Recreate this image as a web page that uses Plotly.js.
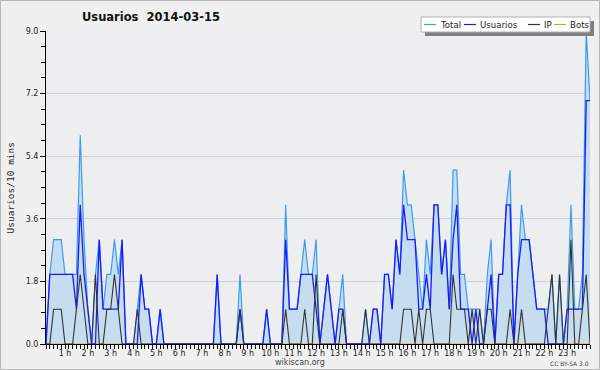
<!DOCTYPE html>
<html><head><meta charset="utf-8">
<script src="https://cdn.plot.ly/plotly-3.0.1.min.js"></script>
<style>html,body{margin:0;padding:0;background:#f0f0f0;}#c{width:600px;height:370px;}</style>
</head><body><div id="c"></div>
<script>
// 144 ten-minute slots for 2014-03-15
const total = [0,2,3,3,3,2,2,2,2,6, 3,1,0,2,3,1,2,2,3,2, 3,0,0,0,1,2,1,1,0,0,
  1,0,0,0,0,0,0,0,0,0, 0,0,0,0,0,2,0,0,0,0, 0,2,0,0,0,0,0,0,1,0,
  0,0,0,4,1,1,1,2,3,2, 2,3,0,1,2,1,0,1,2,0, 0,0,0,0,1,0,1,1,0,2,
  2,1,3,2,5,4,4,3,2,1, 3,2,4,4,2,3,1,5,5,2, 2,1,1,1,1,0,2,3,0,2,
  2,4,5,0,2,4,3,3,2,1, 1,1,1,2,0,2,0,1,4,1, 1,2,9,7];
const usuarios = [0,2,2,2,2,2,2,2,1,4, 2,1,0,0,3,1,1,1,1,1, 3,0,0,0,0,2,1,1,0,0,
  1,0,0,0,0,0,0,0,0,0, 0,0,0,0,0,2,0,0,0,0, 0,1,0,0,0,0,0,0,1,0,
  0,0,0,3,1,1,1,2,2,2, 2,1,0,1,2,1,0,1,1,0, 0,0,0,0,0,0,1,1,0,2,
  2,1,3,2,4,3,3,3,1,1, 2,1,4,4,2,3,1,3,4,1, 1,1,0,1,0,0,1,2,0,2,
  2,4,4,0,2,3,3,3,2,1, 1,1,0,0,0,0,0,1,1,1, 1,1,7,7];
const ip = [0,0,1,1,1,0,0,0,1,2, 1,0,0,2,0,0,1,1,2,1, 0,0,0,0,1,0,0,0,0,0,
  0,0,0,0,0,0,0,0,0,0, 0,0,0,0,0,0,0,0,0,0, 0,1,0,0,0,0,0,0,0,0,
  0,0,0,1,0,0,0,0,1,0, 0,2,0,0,0,0,0,0,1,0, 0,0,0,0,1,0,0,0,0,0,
  0,0,0,0,1,1,1,0,1,0, 1,1,0,0,0,0,0,2,1,1, 1,0,1,0,1,0,1,1,0,0,
  0,0,1,0,0,1,0,0,0,0, 0,0,1,2,0,2,0,0,3,0, 0,1,2,0];
const bots = [0,0,0,0,0,0,0,0,0,0, 0,0,0,0,0,0,0,0,0,0, 0,0,0,0,0,0,0,0,0,0,
  0,0,0,0,0,0,0,0,0,0, 0,0,0,0,0,0,0,0,0,0, 0,0,0,0,0,0,0,0,0,0,
  0,0,0,0,0,0,0,0,0,0, 0,0,0,0,0,0,0,0,0,0, 0,0,0,0,0,0,0,0,0,0,
  0,0,0,0,0,0,0,0,0,0, 0,0,0,0,0,0,0,0,0,0, 0,0,0,0,0,0,0,0,0,0,
  0,0,0,0,0,0,0,0,0,0, 0,0,0,0,0,0,0,0,0,0, 0,0,0,0];
const hourLabels = ['1 h','2 h','3 h','4 h','5 h','6 h','7 h','8 h','9 h','10 h','11 h','12 h',
  '13 h','14 h','15 h','16 h','17 h','18 h','19 h','20 h','21 h','22 h','23 h'];
const yTickVals = [0, 1.8, 3.6, 5.4, 7.2, 9.0];
const yTickText = ['0.0','1.8','3.6','5.4','7.2','9.0'];
const seriesNames = ['Total','Usuarios','IP','Bots'];
const seriesColors = ['#3d9cf0','#1a1aff','#333333','#ff9900'];
const chartTitle = 'Usuarios  2014-03-15';
const yTitle = 'Usuarios/10 mins';

const x = total.map((_, i) => i);
const hourPos = hourLabels.map((_, k) => (k + 1) * 6 - 1);

const traces = [
  {x, y: total, type:'scatter', mode:'lines', name: seriesNames[0], fill:'tozeroy',
   fillcolor:'#c6ddf0', line:{color: seriesColors[0], width:1.2}},
  {x, y: bots, type:'scatter', mode:'lines', name: seriesNames[3], line:{color: seriesColors[3], width:1.2}},
  {x, y: usuarios, type:'scatter', mode:'lines', name: seriesNames[1], line:{color: seriesColors[1], width:1.3}},
  {x, y: ip, type:'scatter', mode:'lines', name: seriesNames[2], line:{color: seriesColors[2], width:1.1}}
];

const PX = v => (v - 46) / 544;      // pixel x -> paper
const PY = v => 1 - (v - 31) / 313;  // pixel y -> paper

// manual legend (box + shadow + swatches + labels)
const legX0 = 421, legX1 = 590, legY0 = 17, legY1 = 32;
const swatchX = [424, 464, 528, 554];
const shapes = [
  {type:'rect', xref:'paper', yref:'paper', x0:PX(0.5), x1:PX(599.5), y0:PY(369.5), y1:PY(0.5),
   fillcolor:'rgba(0,0,0,0)', line:{color:'#b8b8b8', width:1}, layer:'below'},
  {type:'rect', xref:'paper', yref:'paper', x0:PX(legX0+4), x1:PX(legX1+4),
   y0:PY(legY1+4), y1:PY(legY0+4), fillcolor:'#7f7f7f', line:{width:0}, layer:'above'},
  {type:'rect', xref:'paper', yref:'paper', x0:PX(legX0), x1:PX(legX1),
   y0:PY(legY1), y1:PY(legY0), fillcolor:'#ffffff', line:{color:'#b0b0b0', width:1}, layer:'above'}
];
const annotations = [];
[0,1,2,3].forEach((s, k) => {
  const xs = swatchX[k];
  const yy = PY(24.5);
  shapes.push({type:'line', xref:'paper', yref:'paper', x0:PX(xs), x1:PX(xs+12),
    y0:yy, y1:yy, line:{color: seriesColors[s], width:1.2}, layer:'above'});
  annotations.push({xref:'paper', yref:'paper', x:PX(xs+14), y:yy, xanchor:'left', yanchor:'middle',
    text: seriesNames[s], showarrow:false, font:{family:'DejaVu Sans', size:8.6, color:'#222'}});
});
annotations.push({xref:'paper', yref:'paper', x:PX(10), y:0.5, textangle:-90, showarrow:false,
  text: yTitle, xanchor:'center', yanchor:'middle', font:{family:'DejaVu Sans Mono', size:9.5, color:'#222'}});
annotations.push({xref:'paper', yref:'paper', x:PX(300), y:PY(362), showarrow:false,
  text:'wikiscan.org', xanchor:'center', yanchor:'middle', font:{family:'DejaVu Sans', size:8, color:'#444'}});
annotations.push({xref:'paper', yref:'paper', x:PX(591), y:PY(363), showarrow:false,
  text:'CC BY-SA 3.0', xanchor:'right', yanchor:'middle', font:{family:'DejaVu Sans', size:6, color:'#444'}});

const layout = {
  width:600, height:370,
  margin:{l:46, r:10, t:31, b:26, pad:0},
  paper_bgcolor:'#f0f0f0', plot_bgcolor:'#eceef0',
  showlegend:false,
  title:{text: chartTitle, x:151/600, xref:'container', xanchor:'center', y:1-17/370, yref:'container', yanchor:'middle',
    font:{family:'DejaVu Sans', size:11.5, color:'#111', weight:'bold'}},
  xaxis:{range:[0,143], tickmode:'array', tickvals: hourPos, ticktext: hourLabels,
    ticks:'outside', ticklen:4, tickcolor:'#000', tickwidth:1, ticklabelstandoff:-3,
    minor:{tickmode:'linear', tick0:0, dtick:1, ticks:'outside', ticklen:4, tickcolor:'#000', tickwidth:1, showgrid:false},
    showgrid:false, zeroline:false, showline:true, linecolor:'#000', linewidth:1,
    tickfont:{family:'DejaVu Sans', size:8, color:'#222'}, fixedrange:true},
  yaxis:{range:[0,9], tickmode:'array', tickvals: yTickVals, ticktext: yTickText,
    ticks:'outside', ticklen:5, tickcolor:'#000', tickwidth:1,
    minor:{tickmode:'linear', tick0:0, dtick:0.45, ticks:'outside', ticklen:4, tickcolor:'#000', showgrid:false},
    showgrid:true, gridcolor:'#cfcfcf', gridwidth:1, zeroline:false, showline:true, linecolor:'#000', linewidth:1,
    tickfont:{family:'DejaVu Sans', size:8, color:'#222'}, fixedrange:true},
  shapes, annotations
};
Plotly.newPlot('c', traces, layout, {staticPlot:true, displayModeBar:false});
</script></body></html>
